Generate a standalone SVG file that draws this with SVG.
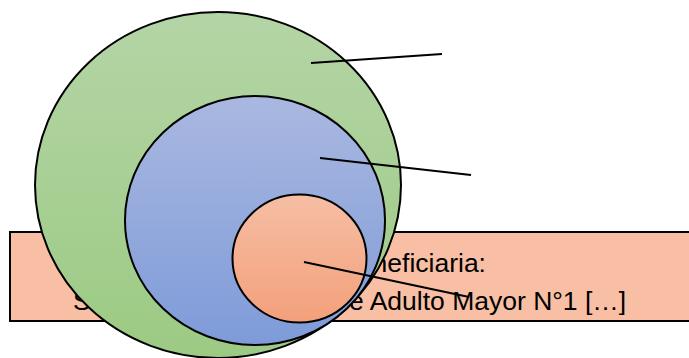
<svg xmlns="http://www.w3.org/2000/svg" width="689" height="358" viewBox="0 0 689 358">
  <defs>
    <linearGradient id="gGreen" x1="0" y1="0" x2="0" y2="1">
      <stop offset="0" stop-color="#B4D5A6"/>
      <stop offset="1" stop-color="#9CCA83"/>
    </linearGradient>
    <linearGradient id="gBlue" x1="0" y1="0" x2="0" y2="1">
      <stop offset="0" stop-color="#AAB8E0"/>
      <stop offset="1" stop-color="#7E9BD9"/>
    </linearGradient>
    <linearGradient id="gOrange" x1="0" y1="0" x2="0" y2="1">
      <stop offset="0" stop-color="#F6BEA4"/>
      <stop offset="1" stop-color="#F3A07B"/>
    </linearGradient>
  </defs>
  <style>
    .shape { stroke: #000; stroke-width: 2; }
    .lbl { font-family: "Liberation Sans", Arial, sans-serif; font-size: 26.5px; fill: #000; }
    .conn { stroke: #000; stroke-width: 2; fill: none; }
  </style>
  <g id="label-box">
    <rect class="shape" x="10" y="232" width="690" height="89" fill="#F8BFA4"/>
    <text class="lbl" x="486" y="271.5" text-anchor="end">Población beneficiaria:</text>
    <text class="lbl" y="309.5"><tspan x="73" letter-spacing="-1">Socios activos del Club d</tspan><tspan x="349">e Adulto Mayor N°1 […]</tspan></text>
  </g>
  <g id="circle-outer">
    <ellipse class="shape" cx="218" cy="185" rx="183" ry="173" fill="url(#gGreen)"/>
  </g>
  <g id="circle-middle">
    <ellipse class="shape" cx="255" cy="220.5" rx="130" ry="124.5" fill="url(#gBlue)"/>
  </g>
  <g id="circle-inner">
    <ellipse class="shape" cx="299.5" cy="258.5" rx="67" ry="64" fill="url(#gOrange)"/>
  </g>
  <g id="connectors">
    <line class="conn" x1="311" y1="63" x2="442" y2="54"/>
    <line class="conn" x1="320" y1="158" x2="471" y2="175"/>
    <line class="conn" x1="304" y1="262" x2="469" y2="297"/>
  </g>
</svg>
